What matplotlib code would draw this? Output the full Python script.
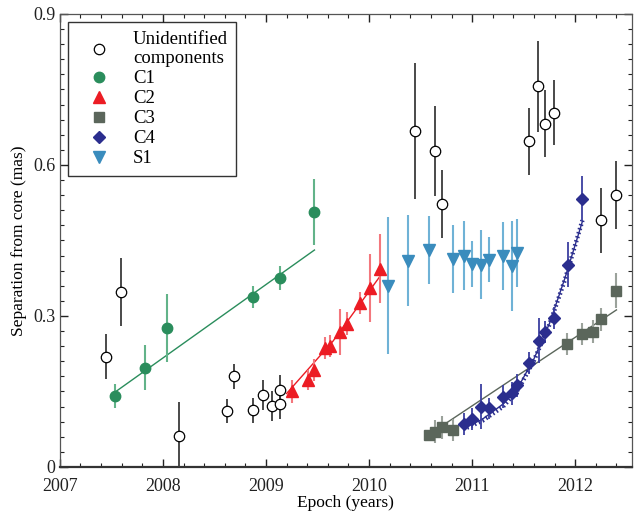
import matplotlib

matplotlib.use("Agg")
import matplotlib.pyplot as plt
from matplotlib.ticker import MultipleLocator

plt.rcParams["font.family"] = ["Liberation Serif", "DejaVu Serif"]
plt.rcParams["mathtext.fontset"] = "stix"

# ── Unidentified components ──
unid_x = [2007.45, 2007.59, 2008.16, 2008.62, 2008.69, 2008.87, 2008.97,
          2009.06, 2009.14, 2009.14, 2010.45, 2010.64, 2010.71, 2011.55,
          2011.64, 2011.71, 2011.79, 2012.25, 2012.40]
unid_y = [0.219, 0.348, 0.062, 0.112, 0.180, 0.113, 0.143, 0.121, 0.152,
          0.125, 0.668, 0.628, 0.522, 0.647, 0.756, 0.682, 0.704, 0.490,
          0.540]
unid_e = [0.045, 0.068, 0.067, 0.024, 0.025, 0.025, 0.030, 0.030, 0.030,
          0.030, 0.135, 0.090, 0.068, 0.067, 0.090, 0.067, 0.065, 0.065,
          0.067]

# ── C1 ──
c1_x = [2007.53, 2007.83, 2008.04, 2008.87, 2009.14, 2009.47]
c1_y = [0.141, 0.197, 0.276, 0.338, 0.376, 0.506]
c1_e = [0.023, 0.045, 0.068, 0.022, 0.024, 0.066]
c1_fit_x = [2007.53, 2009.47]
c1_fit_y = [0.148, 0.431]

# ── C2 ──
c2_x = [2009.25, 2009.41, 2009.47, 2009.57, 2009.62, 2009.72, 2009.79,
        2009.91, 2010.01, 2010.11]
c2_y = [0.150, 0.173, 0.192, 0.237, 0.241, 0.268, 0.285, 0.325, 0.356, 0.394]
c2_e = [0.022, 0.020, 0.022, 0.022, 0.022, 0.045, 0.022, 0.022, 0.067, 0.068]
c2_fit_x = [2009.20, 2009.65, 2010.11]
c2_fit_y = [0.146, 0.250, 0.380]

# ── C3 ──
c3_x = [2010.58, 2010.64, 2010.71, 2010.81, 2011.92, 2012.07, 2012.17,
        2012.25, 2012.40]
c3_y = [0.064, 0.070, 0.079, 0.074, 0.245, 0.264, 0.269, 0.293, 0.350]
c3_e = [0.010, 0.023, 0.023, 0.022, 0.022, 0.022, 0.022, 0.022, 0.035]
c3_fit_x = [2010.71, 2012.40]
c3_fit_y = [0.082, 0.312]

# ── C4 ──
c4_x = [2010.92, 2011.00, 2011.09, 2011.16, 2011.30, 2011.39, 2011.44,
        2011.55, 2011.65, 2011.71, 2011.79, 2011.93, 2012.07]
c4_y = [0.085, 0.096, 0.120, 0.117, 0.140, 0.146, 0.162, 0.206, 0.251,
        0.268, 0.296, 0.402, 0.533]
c4_e = [0.022, 0.022, 0.045, 0.021, 0.022, 0.022, 0.023, 0.022, 0.045,
        0.022, 0.022, 0.045, 0.045]
c4_fit_x = [2010.95, 2011.10, 2011.30, 2011.45, 2011.60, 2011.75, 2011.90,
            2012.07]
c4_fit_y = [0.080, 0.095, 0.125, 0.160, 0.215, 0.285, 0.375, 0.488]
c4_dot_y = [0.078, 0.092, 0.120, 0.155, 0.212, 0.283, 0.372, 0.490]

# ── S1 ──
s1_x = [2010.18, 2010.38, 2010.58, 2010.81, 2010.92, 2011.00, 2011.09,
        2011.16, 2011.30, 2011.39, 2011.44]
s1_y = [0.360, 0.410, 0.431, 0.413, 0.420, 0.403, 0.402, 0.412, 0.419,
        0.399, 0.425]
s1_e = [0.136, 0.090, 0.068, 0.068, 0.068, 0.045, 0.068, 0.045, 0.068,
        0.090, 0.068]

GREEN, GREEN_E = "#2a8d5c", "#62b389"
RED, RED_E = "#ec1c24", "#f3777d"
GREY, GREY_E = "#5b665b", "#9ba29b"
NAVY, NAVY_E = "#2b2e8e", "#3b3fa0"
BLUE, BLUE_E = "#3a8cbd", "#6fb2d6"

fig = plt.figure(figsize=(6.37, 5.16), dpi=100)
ax = fig.add_axes([0.094, 0.095, 0.898, 0.878])

# fit lines
ax.plot(c1_fit_x, c1_fit_y, color=GREEN, lw=1.0, zorder=2)
ax.plot(c2_fit_x, c2_fit_y, color=RED, lw=1.0, zorder=2)
ax.plot(c3_fit_x, c3_fit_y, color=GREY, lw=1.0, zorder=2)
ax.plot(c4_fit_x, c4_fit_y, color=NAVY, lw=1.0, zorder=2)
ax.plot(c4_fit_x, c4_dot_y, color=NAVY, lw=3.2, ls=(0, (0.35, 0.6)), zorder=2)

series = [
    (unid_x, unid_y, unid_e, "Unidentified\ncomponents",
     dict(fmt="o", ms=7.5, mfc="white", mec="black", mew=0.9,
          ecolor="#3a3a3a", elinewidth=1.3)),
    (c1_x, c1_y, c1_e, "C1",
     dict(fmt="o", ms=7.5, color=GREEN, ecolor=GREEN_E, elinewidth=1.5)),
    (c2_x, c2_y, c2_e, "C2",
     dict(fmt="^", ms=8.5, color=RED, ecolor=RED_E, elinewidth=1.5)),
    (c3_x, c3_y, c3_e, "C3",
     dict(fmt="s", ms=6.5, color=GREY, ecolor=GREY_E, elinewidth=1.5)),
    (c4_x, c4_y, c4_e, "C4",
     dict(fmt="D", ms=6.5, color=NAVY, ecolor=NAVY_E, elinewidth=1.3)),
    (s1_x, s1_y, s1_e, "S1",
     dict(fmt="v", ms=8.5, color=BLUE, ecolor=BLUE_E, elinewidth=1.5)),
]
handles, labels = [], []
for xs, ys, es, lab, kw in series:
    cont = ax.errorbar(xs, ys, yerr=es, capsize=0, zorder=4, **kw)
    handles.append(cont[0])
    labels.append(lab)

ax.set_xlim(2007, 2012.55)
ax.set_ylim(0, 0.9)
ax.xaxis.set_major_locator(MultipleLocator(1))
ax.xaxis.set_minor_locator(MultipleLocator(0.2))
ax.yaxis.set_minor_locator(MultipleLocator(0.03))
ax.set_yticks([0, 0.3, 0.6, 0.9])
ax.set_yticklabels(["0", "0.3", "0.6", "0.9"])
ax.tick_params(which="both", direction="in", top=True, right=True,
               labelsize=13, colors="#222222")
ax.tick_params(axis="x", pad=8)
ax.tick_params(axis="y", pad=3)
ax.tick_params(which="major", length=6, width=1.0)
ax.tick_params(which="minor", length=3, width=0.8)
for side in ["top", "right", "left"]:
    ax.spines[side].set_color("#555555")
    ax.spines[side].set_linewidth(0.9)
ax.spines["bottom"].set_color("#333333")
ax.spines["bottom"].set_linewidth(1.6)

ax.set_xlabel("Epoch (years)", fontsize=12.5, labelpad=0)
ax.set_ylabel("Separation from core (mas)", fontsize=12.5, labelpad=5)

leg = ax.legend(handles, labels, loc="upper left", fontsize=13.5,
                frameon=True, fancybox=False, edgecolor="black",
                borderpad=0.45, labelspacing=0.15, handletextpad=0.6,
                borderaxespad=0.45, handlelength=2.4)
leg.get_frame().set_linewidth(1.0)

fig.savefig("out.png", dpi=100)
